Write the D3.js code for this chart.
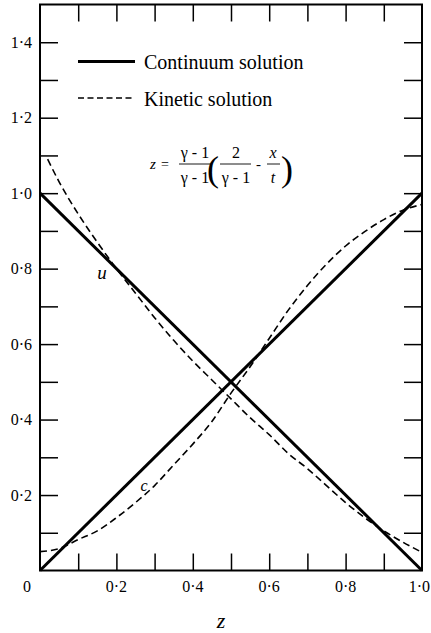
<!DOCTYPE html>
<html>
<head>
<meta charset="utf-8">
<script src="https://cdn.jsdelivr.net/npm/d3@7"></script>
</head>
<body style="margin:0; background:#fff">
<svg id="chart" width="431" height="633"></svg>
<script>
// --- Data ---
// continuum solution: straight lines
const zCont = [0, 1];
const uCont = [1, 0];
const cCont = [0, 1];

// kinetic solution
const zKinU = [0.02, 0.05, 0.1, 0.15, 0.2, 0.25, 0.3, 0.35, 0.4, 0.45, 0.5, 0.55, 0.6, 0.65, 0.7, 0.75, 0.8, 0.85, 0.9, 0.95, 1.0];
const uKin  = [1.09, 1.03, 0.945, 0.87, 0.80, 0.735, 0.67, 0.61, 0.555, 0.505, 0.455, 0.405, 0.36, 0.31, 0.27, 0.225, 0.18, 0.14, 0.105, 0.075, 0.048];

const zKinC = [0, 0.05, 0.1, 0.15, 0.2, 0.25, 0.3, 0.35, 0.4, 0.45, 0.5, 0.55, 0.6, 0.65, 0.7, 0.75, 0.8, 0.85, 0.9, 0.95, 1.0];
const cKin  = [0.05, 0.058, 0.082, 0.105, 0.14, 0.18, 0.225, 0.28, 0.335, 0.395, 0.47, 0.54, 0.615, 0.69, 0.755, 0.812, 0.86, 0.898, 0.93, 0.955, 0.97];

const xTicks = [0.1, 0.2, 0.3, 0.4, 0.5, 0.6, 0.7, 0.8, 0.9];
const xLabels = [0.2, 0.4, 0.6, 0.8];
const yTicks = [0.1, 0.2, 0.3, 0.4, 0.5, 0.6, 0.7, 0.8, 0.9, 1.0, 1.1, 1.2, 1.3, 1.4];
const yLabels = [0.2, 0.4, 0.6, 0.8, 1.0, 1.2, 1.4];

const SERIF = '"Times New Roman"';

// --- Layout ---
const svg = d3.select('#chart');
const L = 40, R = 422, T = 4.5, B = 570.5;

const x = d3.scaleLinear().domain([0, 1]).range([L, R]);
const y = d3.scaleLinear().domain([0, 1.5]).range([B, T]);

const fmt = d => d3.format('.1f')(d).replace('.', '\u00b7');

// tick marks only, inward, no domain line (the frame is drawn separately)
function ticksOnly(g) {
    g.select('.domain').remove();
    g.selectAll('line').attr('stroke', '#000').attr('stroke-width', 1.5);
}

svg.append('g')
    .attr('transform', `translate(0,${B})`)
    .call(d3.axisBottom(x).tickValues(xTicks).tickSize(-17).tickFormat(''))
    .call(ticksOnly);
svg.append('g')
    .attr('transform', `translate(0,${T})`)
    .call(d3.axisTop(x).tickValues(xTicks).tickSize(-17).tickFormat(''))
    .call(ticksOnly);
svg.append('g')
    .attr('transform', `translate(${L},0)`)
    .call(d3.axisLeft(y).tickValues(yTicks).tickSize(-18).tickFormat(''))
    .call(ticksOnly);
svg.append('g')
    .attr('transform', `translate(${R},0)`)
    .call(d3.axisRight(y).tickValues(yTicks).tickSize(-18).tickFormat(''))
    .call(ticksOnly);

function label(xp, yp, txt, size, anchor, italic) {
    const t = svg.append('text')
        .attr('x', xp).attr('y', yp)
        .attr('text-anchor', anchor || 'middle')
        .style('font-family', SERIF)
        .style('font-size', size + 'px')
        .text(txt);
    if (italic) t.style('font-style', 'italic');
    return t;
}

// --- Tick labels ---
xLabels.forEach(v => label(x(v), B + 21.5, fmt(v), 16));
yLabels.forEach(v => label(L - 8, y(v) + 5.5, fmt(v), 16, 'end'));
// corner "0" and the last x label, which sits against the page edge
label(x(0) - 13, B + 21.5, '0', 16);
label(430, B + 21.5, fmt(1), 16, 'end');

// axis title
label(221, 628, 'z', 22, 'middle', true);

// --- Frame ---
svg.append('rect')
    .attr('x', L).attr('y', T)
    .attr('width', R - L).attr('height', B - T)
    .attr('fill', 'none').attr('stroke', '#000').attr('stroke-width', 2);

// --- Curves ---
const line = d3.line().x(d => x(d[0])).y(d => y(d[1]));
const lineCurve = d3.line().x(d => x(d[0])).y(d => y(d[1])).curve(d3.curveMonotoneX);

const plot = svg.append('g');

plot.append('path')
    .datum(zCont.map((z, i) => [z, uCont[i]]))
    .attr('d', line)
    .attr('fill', 'none').attr('stroke', '#000').attr('stroke-width', 3);
plot.append('path')
    .datum(zCont.map((z, i) => [z, cCont[i]]))
    .attr('d', line)
    .attr('fill', 'none').attr('stroke', '#000').attr('stroke-width', 3);

plot.append('path')
    .datum(zKinU.map((z, i) => [z, uKin[i]]))
    .attr('d', lineCurve)
    .attr('fill', 'none').attr('stroke', '#000').attr('stroke-width', 1.6)
    .attr('stroke-dasharray', '7,4');
plot.append('path')
    .datum(zKinC.map((z, i) => [z, cKin[i]]))
    .attr('d', lineCurve)
    .attr('fill', 'none').attr('stroke', '#000').attr('stroke-width', 1.6)
    .attr('stroke-dasharray', '7,4');

// curve labels
label(102, 279, 'u', 19, 'middle', true);
label(144, 491, 'c', 16, 'middle', true);

// --- Legend ---
svg.append('line')
    .attr('x1', 78).attr('x2', 135).attr('y1', 61.5).attr('y2', 61.5)
    .attr('stroke', '#000').attr('stroke-width', 3);
label(144, 69, 'Continuum solution', 20, 'start');
svg.append('line')
    .attr('x1', 78).attr('x2', 135).attr('y1', 98).attr('y2', 98)
    .attr('stroke', '#000').attr('stroke-width', 1.5)
    .attr('stroke-dasharray', '6,3.5');
label(144, 106, 'Kinetic solution', 20, 'start');

// --- Formula: z = (γ-1)/(γ-1) ( 2/(γ-1) - x/t ) ---
const gm = '\u03b3 - 1';
function frac(cx, x0, x1, num, den, italic) {
    label(cx, 158, num, 16, 'middle', italic);
    svg.append('line').attr('x1', x0).attr('x2', x1).attr('y1', 164).attr('y2', 164)
        .attr('stroke', '#000').attr('stroke-width', 0.9);
    label(cx, 183, den, 16, 'middle', italic);
}
label(150, 169, 'z', 15, 'start', true);
label(161, 169, '=', 14, 'start');
frac(195, 179, 211, gm, gm, false);
label(207, 181, '(', 36, 'start');
frac(236, 220, 251, '2', gm, false);
label(256, 169, '-', 15, 'start');
frac(273, 267, 280, 'x', 't', true);
label(281, 181, ')', 36, 'start');
</script>
</body>
</html>
